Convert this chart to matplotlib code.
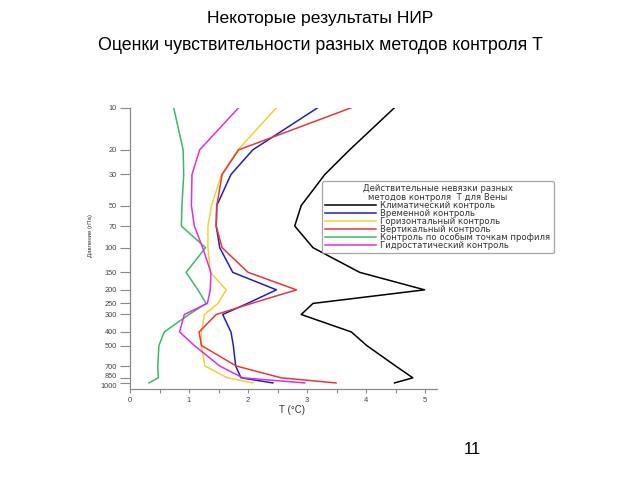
#! /usr/bin/env python3

import numpy as np
import matplotlib.pyplot as plt
import matplotlib.transforms as mtransforms

plt.rcParams['font.family'] = ['Liberation Sans', 'DejaVu Sans']

# pressure levels, hPa
levels = [10, 20, 30, 50, 70, 100, 150, 200, 250, 300, 400, 500, 700, 850, 1000]

# T residuals (deg C) for each control method
t_clim = [4.48, 3.72, 3.30, 2.90, 2.79, 3.10, 3.89, 4.99, 3.10, 2.90, 3.75, 4.01, 4.50, 4.79, 4.48]
t_time = [3.18, 2.08, 1.71, 1.47, 1.46, 1.52, 1.74, 2.48, 1.99, 1.57, 1.71, 1.75, 1.79, 1.88, 2.42]
t_horiz = [2.48, 1.83, 1.55, 1.38, 1.32, 1.32, 1.36, 1.63, 1.49, 1.26, 1.21, 1.21, 1.27, 1.65, 2.08]
t_vert = [3.75, 1.84, 1.56, 1.47, 1.46, 1.56, 2.00, 2.82, 2.06, 1.46, 1.17, 1.21, 1.80, 2.56, 3.49]
t_points = [0.74, 0.90, 0.91, 0.88, 0.87, 1.28, 0.95, 1.15, 1.29, 1.00, 0.58, 0.49, 0.47, 0.48, 0.32]
t_hydro = [1.84, 1.18, 1.05, 1.04, 1.09, 1.23, 1.37, 1.36, 1.31, 0.92, 0.84, 1.09, 1.52, 1.91, 2.96]

series_labels = [
    "Климатический контроль",
    "Временной контроль",
    "Горизонтальный контроль",
    "Вертикальный контроль",
    "Контроль по особым точкам профиля",
    "Гидростатический контроль",
]
series_values = [t_clim, t_time, t_horiz, t_vert, t_points, t_hydro]
series_colors = ["#000000", "#1f1fc8", "#f2d22e", "#e8363a", "#3db86a", "#e02ee0"]

x_ticks = [0, 1, 2, 3, 4, 5]
x_minor = [0.5, 1.5, 2.5, 3.5, 4.5]


# log pressure axis, with the 850-1000 layer drawn squeezed as in the original
LOG850 = np.log10(850)
K = 0.52


def fwd(p):
    lp = np.log10(np.clip(p, 1e-3, None))
    return np.where(lp <= LOG850, lp, LOG850 + (lp - LOG850) * K)


def inv(y):
    return np.where(y <= LOG850, 10 ** y, 10 ** (LOG850 + (y - LOG850) / K))


fig = plt.figure(figsize=(6.4, 4.8), dpi=100)
ax = fig.add_axes([130 / 640, 1 - 388.5 / 480, 307 / 640, 280.8 / 480])

lines = []
for vals, lab, col in zip(series_values, series_labels, series_colors):
    ln, = ax.plot(vals, levels, color=col, lw=1.1, label=lab)
    lines.append(ln)

ax.set_yscale("function", functions=(fwd, inv))
ax.set_ylim(1192, 10)
ax.set_xlim(0, 5.2)

ax.set_yticks(levels)
ax.set_yticklabels([str(v) for v in levels])
ax.set_xticks(x_ticks)
ax.set_xticks(x_minor, minor=True)
ax.yaxis.set_minor_locator(plt.NullLocator())

for s in ["top", "right"]:
    ax.spines[s].set_visible(False)
for s in ["left", "bottom"]:
    ax.spines[s].set_color("#8a8a8a")
    ax.spines[s].set_linewidth(0.9)
ax.spines["left"].set_bounds(10, 1192)

ax.tick_params(axis="y", length=7.5, width=0.8, color="#8a8a8a",
               labelsize=5.3, labelcolor="#444444", pad=2)
ax.tick_params(axis="x", which="both", length=3, width=0.8, color="#8a8a8a",
               labelsize=5.5, labelcolor="#444444", pad=3)

# 850 and 1000 sit almost on top of each other; nudge them apart a little
ylabels = ax.get_yticklabels()
ylabels[-2].set_transform(ylabels[-2].get_transform()
                          + mtransforms.ScaledTranslation(0, 2 / 100, fig.dpi_scale_trans))
ylabels[-1].set_transform(ylabels[-1].get_transform()
                          + mtransforms.ScaledTranslation(0, -2.5 / 100, fig.dpi_scale_trans))

ax.set_xlabel("T (°C)", fontsize=7, color="#333333")
ax.xaxis.set_label_coords(0.527, -0.06)
ax.set_ylabel("Давление (гПа)", fontsize=4.3, color="#333333")
ax.yaxis.set_label_coords(-0.12, 0.543)

leg = ax.legend(
    handles=lines,
    title="Действительные невязки разных\nметодов контроля  Т для Вены",
    loc="upper left",
    bbox_to_anchor=(322 / 640, 1 - 181 / 480),
    bbox_transform=fig.transFigure,
    borderaxespad=0,
    prop={"family": "DejaVu Sans", "size": 6.1},
    title_fontproperties={"family": "DejaVu Sans", "size": 6.1},
    labelspacing=-0.12,
    handlelength=6.0,
    handletextpad=0.5,
    borderpad=0.4,
    frameon=True,
    fancybox=True,
)
leg.get_frame().set_edgecolor("#909090")
leg.get_frame().set_linewidth(0.9)
for t in leg.get_texts():
    t.set_color("#333333")
leg.get_title().set_color("#333333")
leg.get_title().set_linespacing(0.95)
leg.get_title().set_multialignment("center")

fig.text(0.5, 1 - 18 / 480, "Некоторые результаты НИР",
         ha="center", va="center", fontsize=12.6)
fig.text(0.5, 1 - 45 / 480, "Оценки чувствительности разных методов контроля Т",
         ha="center", va="center", fontsize=12.8)
fig.text(472 / 640, 1 - 449 / 480, "11", ha="center", va="center", fontsize=12)

fig.savefig("out.png", dpi=100)
